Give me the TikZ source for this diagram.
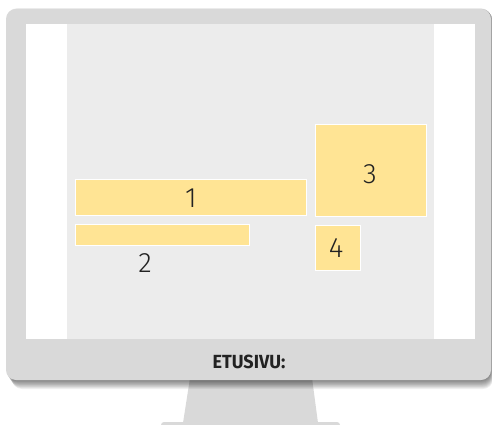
\documentclass[tikz,border=0pt]{standalone}
\usepackage{fontspec}
\setmainfont{Fira Sans}[UprightFont=* Light, BoldFont=* Bold]
\definecolor{frame}{HTML}{D9D9D9}
\definecolor{scr}{HTML}{ECECEC}
\definecolor{yel}{HTML}{FFE494}
\definecolor{txt}{HTML}{222222}
\tikzset{
  ybox/.style={fill=yel, draw=white, line width=0.9pt},
  num/.style={text=txt, font=\fontsize{28}{30}\selectfont, inner sep=0pt},
}
\begin{document}
\begin{tikzpicture}[x=1pt,y=-1pt]
\useasboundingbox (0,0) rectangle (492,425);
% stand
\fill[frame, rounded corners=3pt] (161,422) rectangle (340,430);
\fill[frame] (190,378) -- (312,378) -- (318,423) -- (183,423) -- cycle;
% shadow
\foreach \i in {1,...,10}{
  \fill[black, opacity=0.06, rounded corners=10pt] (6+\i*0.6,8+\i*0.3) rectangle (491+\i*0.2,380+\i*0.9);
}
% frame
\fill[frame, rounded corners=10pt] (6,9) rectangle (491,380);
\fill[white] (26,24) rectangle (475,339);
\fill[scr] (67,24) rectangle (434,339);
% boxes
\node[ybox, minimum width=231pt, minimum height=36pt, anchor=north west] (b1) at (75,179) {};
\node[ybox, minimum width=174pt, minimum height=21pt, anchor=north west] (b2) at (75,224) {};
\node[ybox, minimum width=111pt, minimum height=92pt, anchor=north west] (b3) at (315,124) {};
\node[ybox, minimum width=45pt, minimum height=45pt, anchor=north west] (b4) at (315,225) {};
\node[num] (l1) at (191,198) {1};
\node[num] (l2) at (145,263) {2};
\node[num] (l3) at (370,174) {3};
\node[num] (l4) at (336,248) {4};
\node[text=txt, font=\bfseries\fontsize{19}{21}\selectfont, inner sep=0pt, xscale=0.95] (et) at (249,362) {ETUSIVU:};
\end{tikzpicture}
\end{document}
